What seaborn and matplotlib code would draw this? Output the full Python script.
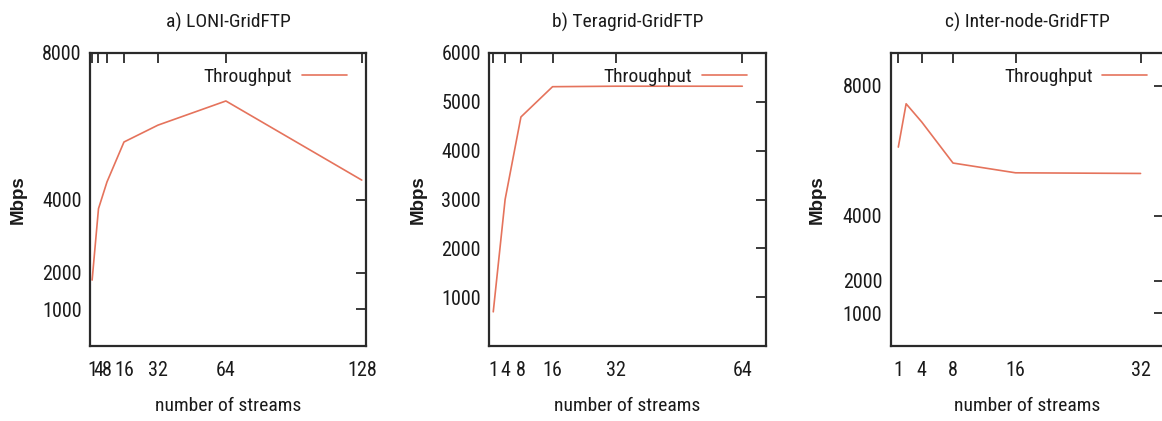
import matplotlib
matplotlib.use("Agg")
import matplotlib.pyplot as plt
from matplotlib import font_manager
import pandas as pd
import seaborn as sns

# Throughput measurements (Mbps) against number of parallel streams
loni_streams = [1, 4, 8, 16, 32, 64, 128]
loni_mbps = [1800, 3750, 4480, 5570, 6030, 6690, 4530]

teragrid_streams = [1, 4, 8, 16, 32, 64]
teragrid_mbps = [700, 3000, 4690, 5310, 5320, 5320]

internode_streams = [1, 2, 4, 8, 16, 32]
internode_mbps = [6110, 7440, 6880, 5620, 5320, 5300]

titles = ["a) LONI-GridFTP", "b) Teragrid-GridFTP", "c) Inter-node-GridFTP"]
x_ticks = [[1, 4, 8, 16, 32, 64, 128], [1, 4, 8, 16, 32, 64], [1, 4, 8, 16, 32]]
y_ticks = [[1000, 2000, 4000, 8000], [1000, 2000, 3000, 4000, 5000, 6000],
           [1000, 2000, 4000, 8000]]
x_limits = [(0, 130), (0, 70), (0, 35)]
y_limits = [(0, 8000), (0, 6000), (0, 9000)]
series_label = "Throughput"
x_label = "number of streams"
y_label = "Mbps"

sns.set_style("white")


def pick_font(candidates):
    for name in candidates:
        try:
            font_manager.findfont(font_manager.FontProperties(family=name),
                                  fallback_to_default=False)
            return name
        except Exception:
            continue
    return "DejaVu Sans"


narrow = pick_font(["Liberation Sans Narrow", "Roboto Condensed", "Liberation Sans"])
wide = pick_font(["Liberation Sans", "Arial", "DejaVu Sans"])
plt.rcParams["font.family"] = [narrow, "DejaVu Sans"]

line_color = "#e5735c"
frame_color = "#2a2a2a"

W, H = 1162, 421
fig = plt.figure(figsize=(W / 100, H / 100), dpi=100)

# axes boxes in pixels: left, right, top, bottom
boxes = [(90, 366, 53, 346), (489.3, 766, 53, 346), (890.5, 1164, 53, 346)]
ylabel_x = [-0.228, -0.225, -0.236]
legend_x = [0.931, 0.930, 0.938]

datasets = [
    pd.DataFrame({"streams": loni_streams, "mbps": loni_mbps}),
    pd.DataFrame({"streams": teragrid_streams, "mbps": teragrid_mbps}),
    pd.DataFrame({"streams": internode_streams, "mbps": internode_mbps}),
]

for i, df in enumerate(datasets):
    l, r, t, b = boxes[i]
    ax = fig.add_axes([l / W, (H - b) / H, (r - l) / W, (b - t) / H])
    sns.lineplot(data=df, x="streams", y="mbps", ax=ax, color=line_color,
                 linewidth=1.2, label=series_label)
    ax.set_xlim(*x_limits[i])
    ax.set_ylim(*y_limits[i])
    ax.set_xticks(x_ticks[i])
    ax.set_yticks(y_ticks[i])
    ax.set_xticklabels([str(v) for v in x_ticks[i]])
    ax.set_yticklabels([str(v) for v in y_ticks[i]])
    ax.tick_params(axis="both", direction="in", length=7, width=1.3,
                   color=frame_color, labelsize=14.5, labelcolor="#1a1a1a",
                   top=True, right=True)
    ax.tick_params(axis="x", pad=11)
    ax.tick_params(axis="y", pad=6)
    for sp in ax.spines.values():
        sp.set_visible(True)
        sp.set_color(frame_color)
        sp.set_linewidth(1.6)

    ax.set_title(titles[i], fontsize=14, pad=18, color="#1a1a1a")
    ax.set_xlabel(x_label, fontsize=14, color="#1a1a1a")
    ax.xaxis.set_label_coords(0.5, -0.174)
    ax.xaxis.label.set_va("top")
    ax.set_ylabel(y_label, fontsize=13.5, fontweight="bold",
                  family=[wide, "DejaVu Sans"], color="#1a1a1a")
    ax.yaxis.set_label_coords(ylabel_x[i], 0.5)

    leg = ax.legend(loc="center right", bbox_to_anchor=(legend_x[i], 0.918),
                    frameon=False, markerfirst=False, fontsize=14,
                    handlelength=2.3, handletextpad=0.5, borderpad=0,
                    borderaxespad=0)
    for txt in leg.get_texts():
        txt.set_color("#1a1a1a")

fig.savefig("out.png", dpi=100)
